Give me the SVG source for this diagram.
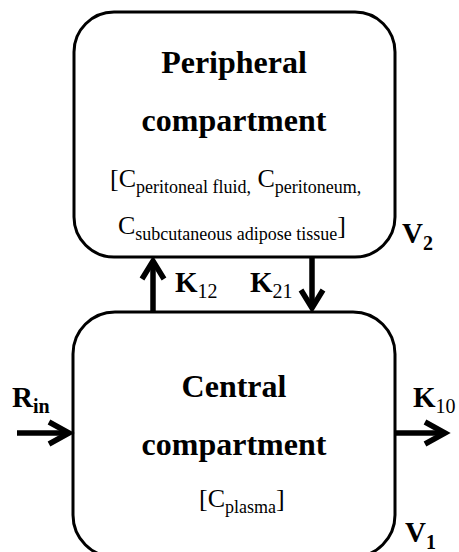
<svg xmlns="http://www.w3.org/2000/svg" width="459" height="552" viewBox="0 0 459 552">
<style>
.box{fill:#fff;stroke:#000;stroke-width:3}
text{fill:#000}
.big{font-size:32px;font-weight:bold}
.c{font-size:26px}
.s{font-size:18px}
.k{font-size:29px;font-weight:bold}
.ks{font-size:20px}
.shaft{stroke:#000;stroke-width:5.5;fill:none}
.head{stroke:#000;stroke-width:5.5;fill:none;stroke-linejoin:miter;stroke-linecap:butt}
</style>
<rect width="459" height="552" fill="#fff"/>
<g id="peripheral" font-family="'Liberation Serif', 'Times New Roman', 'DejaVu Serif', serif">
<rect class="box" x="74" y="12" width="321" height="245" rx="40" ry="40"/>
<text class="big" x="234" y="73" text-anchor="middle">Peripheral</text>
<text class="big" x="234" y="131" text-anchor="middle">compartment</text>
<text x="110" y="187"><tspan class="c">[C</tspan><tspan class="s" y="193">peritoneal fluid,</tspan><tspan class="c" y="187"> C</tspan><tspan class="s" y="193">peritoneum,</tspan></text>
<text x="118" y="234"><tspan class="c">C</tspan><tspan class="s" y="240">subcutaneous adipose tissue</tspan><tspan class="c" y="234">]</tspan></text>
<text class="k" x="402" y="243">V<tspan class="ks" y="250">2</tspan></text>
</g>
<g id="central" font-family="'Liberation Serif', 'Times New Roman', 'DejaVu Serif', serif">
<rect class="box" x="73" y="312" width="322" height="245" rx="42" ry="42"/>
<text class="big" x="234" y="397" text-anchor="middle">Central</text>
<text class="big" x="234" y="455" text-anchor="middle">compartment</text>
<text x="199" y="507"><tspan class="c">[C</tspan><tspan class="s" y="513">plasma</tspan><tspan class="c" y="507">]</tspan></text>
<text class="k" x="405" y="542">V<tspan class="ks" y="549">1</tspan></text>
</g>
<g id="connectors">
<line class="shaft" x1="153" y1="312" x2="153" y2="261"/>
<polyline class="head" points="142,279 153,261 164,279"/>
<line class="shaft" x1="312" y1="257" x2="312" y2="308"/>
<polyline class="head" points="301,290 312,308 323,290"/>
<line class="shaft" x1="17" y1="433" x2="69" y2="433"/>
<polyline class="head" points="49,422 69,433 49,444"/>
<line class="shaft" x1="395" y1="433" x2="445" y2="433"/>
<polyline class="head" points="425,422 445,433 425,444"/>
</g>
<g id="labels" font-family="'Liberation Serif', 'Times New Roman', 'DejaVu Serif', serif">
<text class="k" x="175" y="292">K<tspan class="ks" font-weight="normal" y="298">12</tspan></text>
<text class="k" x="250" y="292">K<tspan class="ks" font-weight="normal" y="298">21</tspan></text>
<text class="k" x="12" y="407">R<tspan class="ks" y="413">in</tspan></text>
<text class="k" x="413" y="407">K<tspan class="ks" font-weight="normal" y="413">10</tspan></text>
</g>
</svg>
